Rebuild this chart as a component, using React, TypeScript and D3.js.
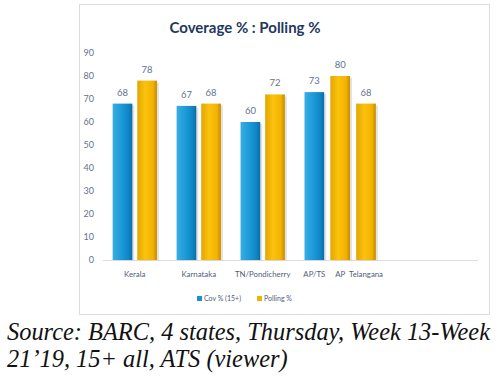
import React from "react";
import * as d3 from "d3";

const categories = ["Kerala", "Karnataka", "TN/Pondicherry", "AP/TS", "AP", "Telangana"];
const coverage: (number | null)[] = [68, 67, 60, 73, null, null];
const polling: (number | null)[] = [78, 68, 72, null, 80, 68];
const seriesNames = ["Cov % (15+)", "Polling %"];
const yTicks = [0, 10, 20, 30, 40, 50, 60, 70, 80, 90];
const sourceLines = ["Source: BARC, 4 states, Thursday, Week 13-Week", "21\u201919, 15+ all, ATS (viewer)"];

const W = 500, H = 376;
const FONT = "Lato, 'Open Sans', sans-serif";

type Bar = { cat: string; ci: number; series: number; value: number; unit: number };

function buildBars(): { bars: Bar[]; maxUnit: number; catCenters: { cat: string; unit: number }[] } {
  const bars: Bar[] = [];
  const catCenters: { cat: string; unit: number }[] = [];
  let u = 0;
  categories.forEach((cat, i) => {
    const vals = [coverage[i], polling[i]];
    const present = vals.map((v, s) => ({ v, s })).filter((d) => d.v != null);
    if (i > 0) {
      const prevCount = [coverage[i - 1], polling[i - 1]].filter((v) => v != null).length;
      u += prevCount > 1 ? 1.6 : 1.05;
    }
    const start = u;
    present.forEach((d, k) => {
      if (k > 0) u += 1;
      bars.push({ cat, ci: i, series: d.s, value: d.v as number, unit: u });
    });
    catCenters.push({ cat, unit: (start + u) / 2 });
  });
  return { bars, maxUnit: u, catCenters };
}

export default function App() {
  const { bars, maxUnit, catCenters } = buildBars();
  const x = d3.scaleLinear().domain([0, maxUnit]).range([122.5, 366]);
  const unitPx = x(1) - x(0);
  const barW = unitPx * 0.8;
  const y = d3.scaleLinear().domain([0, 90]).range([260, 53]);

  return (
    <svg width={W} height={H} style={{ position: "absolute", left: 0, top: 0, background: "#fff" }}>
      <defs>
        <linearGradient id="gBlue" x1="0" x2="1" y1="0" y2="0">
          <stop offset="0%" stopColor="#38ade4" />
          <stop offset="45%" stopColor="#1c9ad8" />
          <stop offset="80%" stopColor="#0f86c6" />
          <stop offset="100%" stopColor="#0a6ea6" />
        </linearGradient>
        <linearGradient id="gGold" x1="0" x2="1" y1="0" y2="0">
          <stop offset="0%" stopColor="#e3a600" />
          <stop offset="40%" stopColor="#fbc20e" />
          <stop offset="80%" stopColor="#f2b300" />
          <stop offset="100%" stopColor="#c38b00" />
        </linearGradient>
      </defs>
      <rect x={79.5} y={4.5} width={410} height={310} fill="#fff" stroke="#dcdcdc" />
      <text x={245} y={33} textAnchor="middle" fontFamily={FONT} fontWeight={700} fontSize={15} fill="#22395c">
        Coverage % : Polling %
      </text>
      {yTicks.map((t) => (
        <text key={t} x={94} y={y(t)} dy="0.35em" textAnchor="end" fontFamily={FONT} fontSize={9} fill="#66718c">
          {t}
        </text>
      ))}
      <line x1={103} x2={478} y1={y(0) + 0.5} y2={y(0) + 0.5} stroke="#dedede" />
      {bars.map((b, i) => {
        const cx = x(b.unit);
        const top = y(b.value);
        return (
          <g key={i}>
            <rect x={cx - barW / 2 + 2} y={top + 2} width={barW} height={y(0) - top - 1} fill="#cfcfcf" opacity={0.6} />
            <rect x={cx - barW / 2} y={top} width={barW} height={y(0) - top} fill={b.series === 0 ? "url(#gBlue)" : "url(#gGold)"} />
            <text x={cx} y={top - 8} textAnchor="middle" fontFamily={FONT} fontSize={9.5} fill="#66718c">
              {b.value}
            </text>
          </g>
        );
      })}
      {catCenters.map((c) => (
        <text key={c.cat} x={x(c.unit)} y={274} dy="0.35em" textAnchor="middle" fontFamily={FONT} fontSize={7.8} fill="#4f5d7a">
          {c.cat}
        </text>
      ))}
      <g fontFamily={FONT} fontSize={7} fill="#4f5d7a">
        <rect x={197} y={296} width={5} height={5} fill="#1c8fd0" />
        <text x={204} y={298.5} dy="0.35em">{seriesNames[0]}</text>
        <rect x={257} y={296} width={5} height={5} fill="#f0b400" />
        <text x={264} y={298.5} dy="0.35em">{seriesNames[1]}</text>
      </g>
      {sourceLines.map((l, i) => (
        <text key={i} x={7} y={340 + i * 27} fontFamily="'Liberation Serif', 'Times New Roman', serif" fontStyle="italic" fontSize={24.4} fill="#111">
          {l}
        </text>
      ))}
    </svg>
  );
}
